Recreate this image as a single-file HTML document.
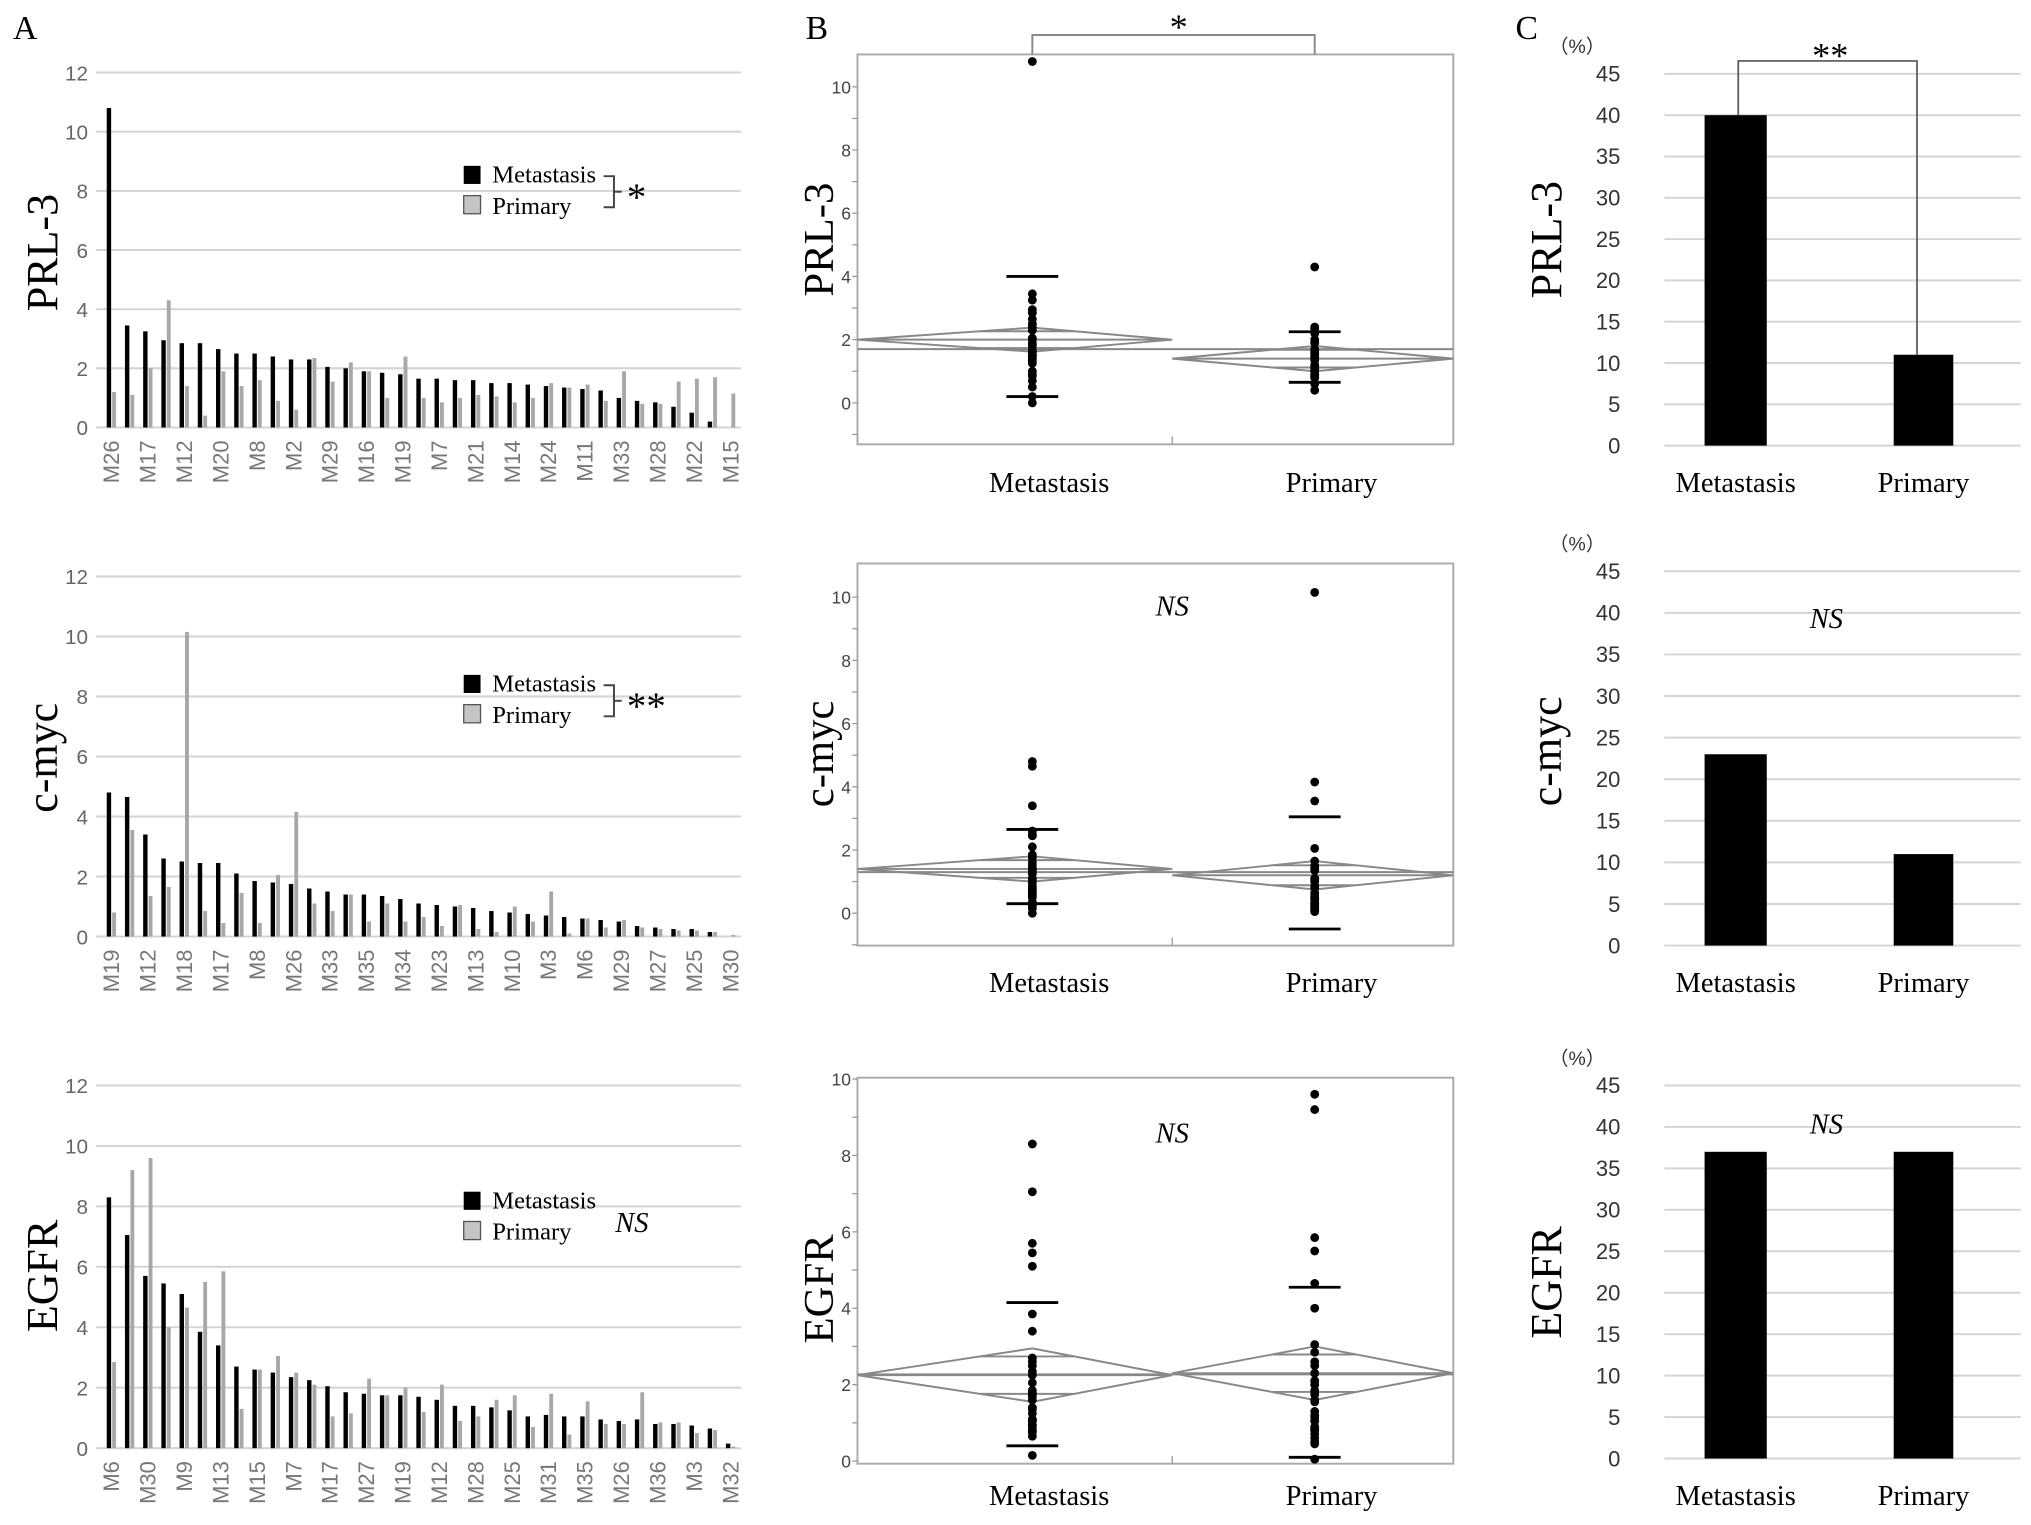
<!DOCTYPE html>
<html><head><meta charset="utf-8"><style>
html,body{margin:0;padding:0;background:#fff;}
svg{display:block;}
</style></head><body>
<svg id="fig" xmlns="http://www.w3.org/2000/svg" width="2031" height="1525" viewBox="0 0 1568 1177.3">
<text x="10" y="30" font-family="Liberation Serif, serif" font-size="26">A</text>
<text x="622" y="30" font-family="Liberation Serif, serif" font-size="26">B</text>
<text x="1170" y="30" font-family="Liberation Serif, serif" font-size="26">C</text>
<g id="gA"></g>
<g id="gB"></g>
<g id="gC"></g>
</svg>
<script>
// ---- data ----
const prlCats = ["M26","","M17","","M12","","M20","","M8","","M2","","M29","","M16","","M19","","M7","","M21","","M14","","M24","","M11","","M33","","M28","","M22","","M15"];
const prlMet = [10.8,3.45,3.25,2.95,2.85,2.85,2.65,2.5,2.5,2.4,2.3,2.3,2.05,2.0,1.9,1.85,1.8,1.65,1.65,1.6,1.6,1.5,1.5,1.45,1.4,1.35,1.3,1.25,1.0,0.9,0.85,0.7,0.5,0.2,0];
const prlPri = [1.2,1.1,2.0,4.3,1.4,0.4,1.9,1.4,1.6,0.9,0.6,2.35,1.55,2.2,1.9,1.0,2.4,1.0,0.85,1.0,1.1,1.05,0.85,1.0,1.5,1.35,1.45,0.9,1.9,0.8,0.8,1.55,1.65,1.7,1.15];
const mycCats = ["M19","","M12","","M18","","M17","","M8","","M26","","M33","","M35","","M34","","M23","","M13","","M10","","M3","","M6","","M29","","M27","","M25","","M30"];
const mycMet = [4.8,4.65,3.4,2.6,2.5,2.45,2.45,2.1,1.85,1.8,1.75,1.6,1.5,1.4,1.4,1.35,1.25,1.1,1.05,1.0,0.95,0.85,0.8,0.75,0.7,0.65,0.6,0.55,0.5,0.35,0.3,0.25,0.25,0.15,0];
const mycPri = [0.8,3.55,1.35,1.65,10.15,0.85,0.45,1.45,0.45,2.05,4.15,1.1,0.85,1.4,0.5,1.1,0.5,0.65,0.35,1.05,0.25,0.15,1.0,0.5,1.5,0.1,0.6,0.3,0.55,0.3,0.25,0.2,0.2,0.15,0.05];
const egfrCats = ["M6","","M30","","M9","","M13","","M15","","M7","","M17","","M27","","M19","","M12","","M28","","M25","","M31","","M35","","M26","","M36","","M3","","M32"];
const egfrMet = [8.3,7.05,5.7,5.45,5.1,3.85,3.4,2.7,2.6,2.5,2.35,2.25,2.05,1.85,1.8,1.75,1.75,1.7,1.6,1.4,1.4,1.35,1.25,1.05,1.1,1.05,1.05,0.95,0.9,0.95,0.8,0.8,0.75,0.65,0.15];
const egfrPri = [2.85,9.2,9.6,4.0,4.65,5.5,5.85,1.3,2.6,3.05,2.5,2.1,1.05,1.15,2.3,1.75,2.0,1.2,2.1,0.9,1.05,1.6,1.75,0.7,1.8,0.45,1.55,0.8,0.8,1.85,0.85,0.85,0.5,0.6,0.05];
const aTicks = [0,2,4,6,8,10,12];
// panel B summary stats: [mean, ciHalf, sdLow, sdHigh]
const prlMetStats = [2.0,0.38,0.2,4.0];
const prlPriStats = [1.4,0.4,0.65,2.25];
const prlGrand = [1.7];
const mycMetStats = [1.4,0.4,0.3,2.65];
const mycPriStats = [1.2,0.45,-0.5,3.05];
const mycGrand = [1.3];
const egfrMetStats = [2.25,0.7,0.4,4.15];
const egfrPriStats = [2.3,0.7,0.1,4.55];
const egfrGrand = [2.27];
// panel C percentages
const cGroups = ["Metastasis","Primary"];
const prlPct = [40,11];
const mycPct = [23,11];
const egfrPct = [37,37];
const cTicks = [0,5,10,15,20,25,30,35,40,45];

const NS="http://www.w3.org/2000/svg";
function mk(parent,tag,attrs,text){const e=document.createElementNS(NS,tag);for(const k in attrs)e.setAttribute(k,attrs[k]);if(text!==undefined)e.textContent=text;parent.appendChild(e);return e;}
const SANS="Liberation Sans, DejaVu Sans, sans-serif", SERIF="Liberation Serif, serif";

// ---- Panel A ----
const gA=document.getElementById('gA');
function panelA(y0,y12,title,titleY,cats,met,pri,sig,sigItalic,idx){
  const g=mk(gA,'g',{});
  
  
  const yv=v=>y0+(y12-y0)*v/12;
  aTicks.forEach(t=>{
    const l=mk(g,'line',{x1:74,x2:572,y1:yv(t),y2:yv(t),stroke:'#d4d4d4','stroke-width':1.6});
    
    
    const tx=mk(g,'text',{x:68,y:yv(t)+6,'text-anchor':'end','font-family':SANS,'font-size':16,fill:'#666'},String(t));
    
    
  });
  const yt=mk(g,'text',{x:0,y:0,transform:`translate(44,${titleY}) rotate(-90)`,'text-anchor':'middle','font-family':SERIF,'font-size':34},title);
  
  
  const step=14.06, x0=84;
  met.forEach((v,i)=>{
    const x=x0+i*step;
    const b=mk(g,'rect',{x:x-1.6,y:yv(v),width:3.4,height:y0-yv(v),fill:'#000'});
    
    
    const p=pri[i];
    const b2=mk(g,'rect',{x:x+2.6,y:yv(p),width:3,height:y0-yv(p),fill:'#a8a8a8'});
    
    
    if(cats[i]){
      const t=mk(g,'text',{x:0,y:0,transform:`translate(${x+8},${y0+10}) rotate(-90)`,'text-anchor':'end','font-family':SANS,'font-size':17,fill:'#777'},cats[i]);
      
      
    }
  });
  const ly=y0-202+ (idx===2?4:0);
  const lg=mk(g,'g',{});
  
  
  mk(lg,'rect',{x:358,y:ly,width:13,height:14,fill:'#000'});
  mk(lg,'text',{x:380,y:ly+13,'font-family':SERIF,'font-size':19},'Metastasis');
  mk(lg,'rect',{x:358,y:ly+23,width:13,height:14,fill:'#c4c4c4',stroke:'#555','stroke-width':1});
  mk(lg,'text',{x:380,y:ly+37,'font-family':SERIF,'font-size':19},'Primary');
  if(sig){
    mk(lg,'path',{d:`M466 ${ly+8} h8 v24 h-8`,fill:'none',stroke:'#444','stroke-width':1.5});
    mk(lg,'line',{x1:474,x2:480,y1:ly+20,y2:ly+20,stroke:'#444','stroke-width':1.5});
    const s=mk(lg,'text',{x:484,y:ly+34,'font-family':SERIF,'font-size':30},sig);
    
    
  } else {
    const s=mk(lg,'text',{x:475,y:ly+31,'font-family':SERIF,'font-size':22,'font-style':'italic'},sigItalic);
    
    
  }
}
panelA(330,56,'PRL-3',195,prlCats,prlMet,prlPri,'*',null,0);
panelA(723,445,'c-myc',585,mycCats,mycMet,mycPri,'**',null,1);
panelA(1118,838,'EGFR',985,egfrCats,egfrMet,egfrPri,null,'NS',2);

// ---- Panel B ----
const gB=document.getElementById('gB');
function panelB(top,bot,y0,y10,ymin,ymax,title,titleY,met,pri,ms,ps,grand,labY,nsY){
  const g=mk(gB,'g',{});
  
  
  const L=662,R=1122,M=905,cm=797,cp=1015;
  const yv=v=>y0+(y10-y0)*v/10;
  const fr=mk(g,'rect',{x:L,y:top,width:R-L,height:bot-top,fill:'none',stroke:'#aaa','stroke-width':1.5});
  
  
  mk(g,'line',{x1:M,x2:M,y1:bot,y2:bot-6,stroke:'#999'});
  for(let t=ymin;t<=ymax;t++){
    mk(g,'line',{x1:L-4,x2:L,y1:yv(t),y2:yv(t),stroke:'#999'});
    if(t%2===0&&t>=0){
      const tx=mk(g,'text',{x:L-5,y:yv(t)+5,'text-anchor':'end','font-family':SANS,'font-size':13.5,fill:'#444'},String(t));
      
      
    }
  }
  const yt=mk(g,'text',{x:0,y:0,transform:`translate(643,${titleY}) rotate(-90)`,'text-anchor':'middle','font-family':SERIF,'font-size':33},title);
  
  
  const gl=mk(g,'line',{x1:L,x2:R,y1:yv(grand[0]),y2:yv(grand[0]),stroke:'#888','stroke-width':1.5});
  
  
  [[ms,L,M,cm,met,'metastasis'],[ps,M,R,cp,pri,'primary']].forEach(([s,a,b,c,pts,nm])=>{
    const [mean,ci,lo,hi]=s;
    const d=mk(g,'path',{d:`M${a} ${yv(mean)} L${c} ${yv(mean+ci)} L${b} ${yv(mean)} L${c} ${yv(mean-ci)} Z M${a} ${yv(mean)} H${b} M${c-(c-a)*0.3} ${yv(mean+ci*0.7)} H${c+(b-c)*0.3} M${c-(c-a)*0.3} ${yv(mean-ci*0.7)} H${c+(b-c)*0.3}`,fill:'none',stroke:'#888','stroke-width':1.5});
    
    
    [lo,hi].forEach(v=>{
      const w=mk(g,'line',{x1:c-20,x2:c+20,y1:yv(v),y2:yv(v),stroke:'#000','stroke-width':2.2});
      
      
    });
    pts.forEach(v=>{
      const p=mk(g,'circle',{cx:c,cy:yv(v),r:3.4,fill:'#000'});
      
      
    });
    const lt=mk(g,'text',{x:c+13,y:labY,'text-anchor':'middle','font-family':SERIF,'font-size':22},nm==='metastasis'?'Metastasis':'Primary');
    
    
  });
  if(nsY){
    const n=mk(g,'text',{x:905,y:nsY,'text-anchor':'middle','font-family':SERIF,'font-size':22,'font-style':'italic'},'NS');
    
    
  }
}
panelB(42,343,311,67,-1,10,'PRL-3',185,prlMet,prlPri,prlMetStats,prlPriStats,prlGrand,380,null);
const br=mk(gB,'path',{d:'M797 42 V27 H1015 V42',fill:'none',stroke:'#888','stroke-width':1.5});


mk(gB,'text',{x:910,y:30,'text-anchor':'middle','font-family':SERIF,'font-size':28},'*');
panelB(435,730,705,461,-1,10,'c-myc',582,mycMet,mycPri,mycMetStats,mycPriStats,mycGrand,766,475);
panelB(832,1130,1128,833,0,10,'EGFR',995,egfrMet,egfrPri,egfrMetStats,egfrPriStats,egfrGrand,1162,882);

// ---- Panel C ----
const gC=document.getElementById('gC');
function panelC(y0,y45,title,titleY,vals,nsY){
  const g=mk(gC,'g',{});
  
  
  const yv=v=>y0+(y45-y0)*v/45;
  cTicks.forEach(t=>{
    const l=mk(g,'line',{x1:1285,x2:1560,y1:yv(t),y2:yv(t),stroke:'#d4d4d4','stroke-width':1.5});
    
    
    const tx=mk(g,'text',{x:1251,y:yv(t)+6,'text-anchor':'end','font-family':SANS,'font-size':17,fill:'#333'},String(t));
    
    
  });
  const u=mk(g,'text',{x:1196,y:y45-16,'font-family':SANS,'font-size':15,fill:'#333'},'（%）');
  
  
  const yt=mk(g,'text',{x:0,y:0,transform:`translate(1205,${titleY}) rotate(-90)`,'text-anchor':'middle','font-family':SERIF,'font-size':34},title);
  
  
  const centers=[1340,1485], widths=[48,46];
  vals.forEach((v,i)=>{
    const b=mk(g,'rect',{x:centers[i]-widths[i]/2,y:yv(v),width:widths[i],height:y0-yv(v),fill:'#000'});
    
    
    const t=mk(g,'text',{x:centers[i],y:y0+36,'text-anchor':'middle','font-family':SERIF,'font-size':22},cGroups[i]);
    
    
  });
  if(nsY){
    const n=mk(g,'text',{x:1410,y:nsY,'text-anchor':'middle','font-family':SERIF,'font-size':22,'font-style':'italic'},'NS');
    
    
  }
  return yv;
}
const yc1=panelC(344,57,'PRL-3',185,prlPct,null);
const br2=mk(gC,'path',{d:`M1342 ${yc1(prlPct[0])} V47 H1480 V${yc1(prlPct[1])}`,fill:'none',stroke:'#555','stroke-width':1.3});


mk(gC,'text',{x:1413,y:52,'text-anchor':'middle','font-family':SERIF,'font-size':28},'**');
panelC(730,441,'c-myc',580,mycPct,485);
panelC(1126,838,'EGFR',990,egfrPct,875);
</script>
</body></html>
